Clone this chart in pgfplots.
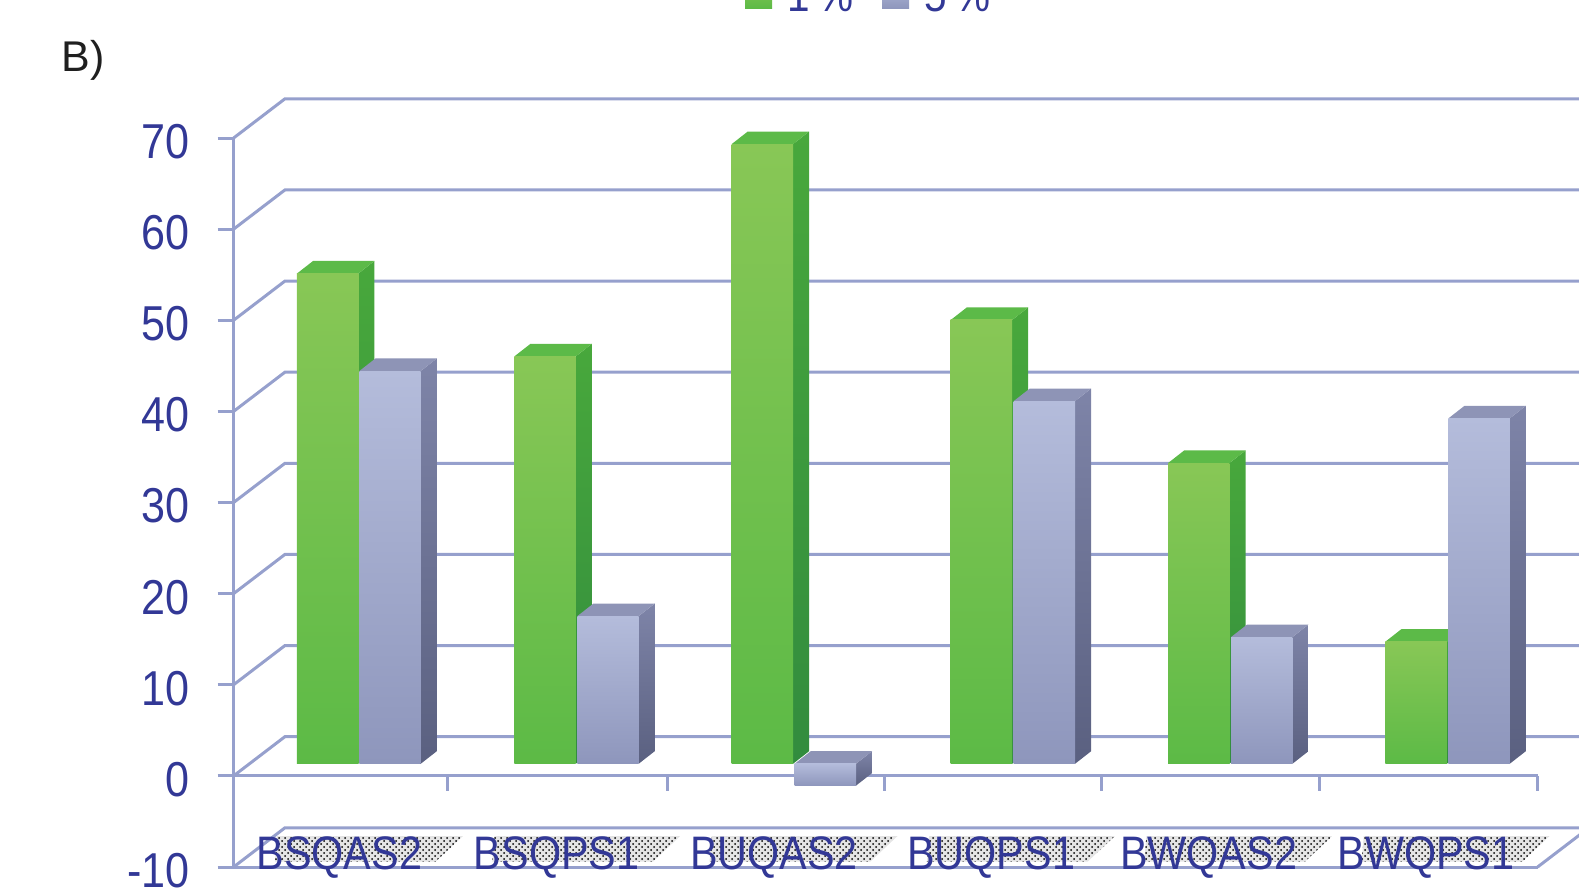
\documentclass[border=0pt]{standalone}
\usepackage{pgfplots}
\pgfplotsset{compat=1.18}
\usepackage{fontspec}
\usetikzlibrary{patterns}
\setmainfont{Liberation Sans}
\newfontfamily\chartfont[FakeStretch=0.88]{Liberation Sans}

\definecolor{axisblue}{RGB}{150,160,205}
\definecolor{labelblue}{RGB}{50,56,150}
\definecolor{greenTop}{RGB}{136,199,86}
\definecolor{greenBot}{RGB}{92,186,70}
\definecolor{greenSideTop}{RGB}{72,168,60}
\definecolor{greenSideBot}{RGB}{50,140,62}
\definecolor{greenCap}{RGB}{92,186,72}
\definecolor{blueTop}{RGB}{180,188,219}
\definecolor{blueBot}{RGB}{142,150,188}
\definecolor{blueSideTop}{RGB}{126,132,168}
\definecolor{blueSideBot}{RGB}{90,96,128}
\definecolor{blueCap}{RGB}{142,148,182}

% One pseudo-3D column: category, offset in the category, value, colour prefix
\newcommand{\columnbar}[4]{%
  \pgfmathsetmacro{\xa}{#1+#2}%
  \pgfmathsetmacro{\xb}{\xa+0.2824}%
  \pgfmathsetmacro{\xc}{\xb+0.074}%
  \pgfmathsetmacro{\xd}{\xa+0.074}%
  \pgfmathsetmacro{\ya}{1.33+min(0,#3)}%
  \pgfmathsetmacro{\yb}{1.33+max(0,#3)}%
  \pgfmathsetmacro{\yc}{\ya+1.38}%
  \pgfmathsetmacro{\yd}{\yb+1.38}%
  \addplot[forget plot,draw=none,shade,top color=#4SideTop,bottom color=#4SideBot]
    coordinates {(\xb,\ya) (\xc,\yc) (\xc,\yd) (\xb,\yb)} --cycle;
  \addplot[forget plot,draw=none,fill=#4Cap]
    coordinates {(\xa,\yb) (\xb,\yb) (\xc,\yd) (\xd,\yd)} --cycle;
  \addplot[forget plot,draw=none,shade,top color=#4Top,bottom color=#4Bot]
    coordinates {(\xa,\ya) (\xb,\ya) (\xb,\yb) (\xa,\yb)} --cycle;
}
% Back-wall gridline with its slanted run to the front plane
\newcommand{\wallline}[1]{%
  \pgfmathsetmacro{\yw}{#1+4.3}%
  \addplot[forget plot,axisblue,line width=1.5pt]
    coordinates {(0,#1) (0.236,\yw) (6.3,\yw)};
}
% Dotted shadow behind a category name
\newcommand{\labelshadow}[1]{%
  \pgfmathsetmacro{\xa}{#1+0.19}%
  \pgfmathsetmacro{\xb}{#1+1.055}%
  \pgfmathsetmacro{\xc}{#1+0.93}%
  \pgfmathsetmacro{\xd}{#1+0.2}%
  \addplot[forget plot,draw=none,fill=black!10]
    coordinates {(\xd,-6.6) (\xb,-6.6) (\xc,-9.4) (\xa,-9.4)} --cycle;
  \addplot[forget plot,draw=none,pattern=crosshatch dots,pattern color=black]
    coordinates {(\xd,-6.6) (\xb,-6.6) (\xc,-9.4) (\xa,-9.4)} --cycle;
}
\newcommand{\fronttick}[1]{%
  \addplot[forget plot,axisblue,line width=1.5pt] coordinates {(#1,0) (#1,-1.7)};
}

\begin{document}
\begin{tikzpicture}
\path[use as bounding box,clip] (0,0) rectangle (789.5pt,447.5pt);
\node[anchor=north west,inner sep=0pt,font=\fontsize{21.5}{24}\selectfont,text=black!88]
  at (30.6pt,427.5pt) {B)};
\begin{axis}[
  at={(116.8pt,14pt)},anchor=south west,
  scale only axis,width=652pt,height=364.5pt,
  xmin=0,xmax=6,ymin=-10,ymax=70,
  clip=false,
  axis on top,
  axis x line=bottom,axis y line=left,
  axis line style={axisblue,line width=1.5pt,-},
  ytick={-10,0,10,20,30,40,50,60,70},
  xtick={0.5,1.5,2.5,3.5,4.5,5.5},
  xticklabels={BSQAS2,BSQPS1,BUQAS2,BUQPS1,BWQAS2,BWQPS1},
  tick style={axisblue,line width=1.5pt},
  x tick style={draw=none},
  major tick length=8pt,
  tick align=outside,
  /pgf/number format/assume math mode=true,
  ticklabel style={text=labelblue,font=\chartfont\fontsize{23.5}{26}\selectfont},
  yticklabel style={xshift=-10.5pt,yshift=-1.8pt,
    font=\chartfont\fontsize{24.5}{26}\selectfont},
  xticklabel style={yshift=26.5pt,xshift=-1.5pt},
  legend style={at={(axis cs:2.352,85.5)},anchor=west,draw=none,fill=none,
    legend columns=2,inner sep=0pt,outer sep=0pt,
    font=\chartfont\fontsize{23}{26}\selectfont,text=labelblue,
    /tikz/every even column/.append style={column sep=12pt}},
]
% Wall gridlines and the floor plate
\wallline{-10}\wallline{0}\wallline{10}\wallline{20}
\wallline{30}\wallline{40}\wallline{50}\wallline{60}\wallline{70}
\addplot[forget plot,axisblue,line width=1.5pt] coordinates {(6,-10) (6.236,-5.7)};
\addplot[forget plot,axisblue,line width=1.5pt] coordinates {(0,0) (6,0)};
\fronttick{0.986}\fronttick{1.995}\fronttick{2.995}\fronttick{3.995}\fronttick{4.995}\fronttick{6}

\labelshadow{0}\labelshadow{1}\labelshadow{2}\labelshadow{3}\labelshadow{4}\labelshadow{5}

% Columns per category: 1 % then 5 %
\columnbar{0}{0.2917}{53.8}{green}
\columnbar{0}{0.5787}{43.1}{blue}
\columnbar{1}{0.2917}{44.7}{green}
\columnbar{1}{0.5815}{16.2}{blue}
\columnbar{2}{0.2917}{68.0}{green}
\columnbar{2}{0.5815}{-2.4}{blue}
\columnbar{3.008}{0.2917}{48.7}{green}
\columnbar{3.008}{0.5815}{39.8}{blue}
\columnbar{4.008}{0.2917}{33.0}{green}
\columnbar{4.008}{0.5815}{13.9}{blue}
\columnbar{5.008}{0.2917}{13.4}{green}
\columnbar{5.008}{0.5815}{37.9}{blue}

\addlegendimage{legend image code/.code={\path (0pt,0pt) -- (19pt,0pt);\shade[top color=greenTop,bottom color=greenBot,draw=none] (0pt,-6pt) rectangle (13.5pt,8pt);}}
\addlegendentry{1\,\%}
\addlegendimage{legend image code/.code={\path (0pt,0pt) -- (19pt,0pt);\shade[top color=blueTop,bottom color=blueBot,draw=none] (0pt,-6pt) rectangle (13.5pt,8pt);}}
\addlegendentry{5\,\%}
\end{axis}
\end{tikzpicture}
\end{document}
